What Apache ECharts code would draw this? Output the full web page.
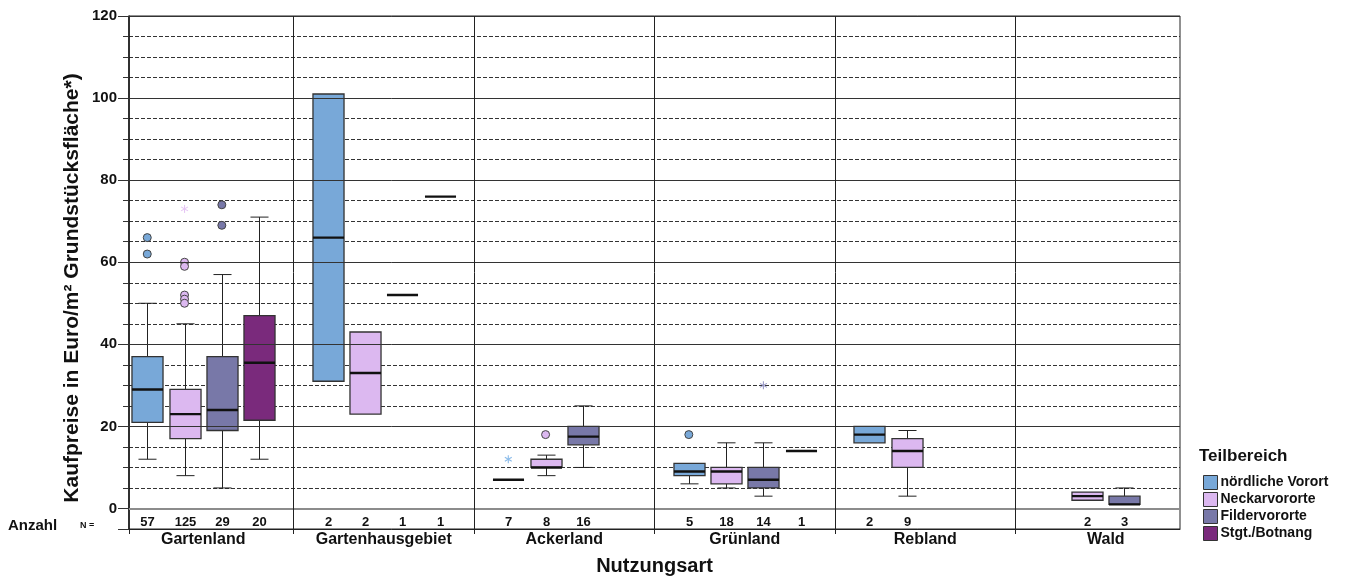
<!DOCTYPE html>
<html>
<head>
<meta charset="utf-8">
<title>Kaufpreise nach Nutzungsart</title>
<script src="https://cdn.jsdelivr.net/npm/echarts@6/dist/echarts.min.js"></script>
<style>
  html, body { margin: 0; padding: 0; background: #fff; }
  #chart { width: 1351px; height: 577px; }
</style>
</head>
<body>
<div id="chart"></div>
<script>
const categories = ['Gartenland', 'Gartenhausgebiet', 'Ackerland', 'Grünland', 'Rebland', 'Wald'];
const groups = ['nördliche Vorort', 'Neckarvororte', 'Fildervororte', 'Stgt./Botnang'];
const groupColors = ['#78a8d8', '#dcb8f0', '#7878a8', '#7a2a7c'];
const starColors = ['#8cbcea', '#e6c6f4', '#9a9ac8', '#9a4a9c'];

// [Minimum, Q1, Median, Q3, Maximum] je Nutzungsart, null = keine Fälle
const nordBoxes = [[12, 21, 29, 37, 50], [31, 31, 66, 101, 101], [7, 7, 7, 7, 7], [6, 8, 9, 11, 11], [16, 16, 18, 20, 20], null];
const neckarBoxes = [[8, 17, 23, 29, 45], [23, 23, 33, 43, 43], [8, 10, 10, 12, 13], [5, 6, 9, 10, 16], [3, 10, 14, 17, 19], [2, 2, 3, 4, 4]];
const filderBoxes = [[5, 19, 24, 37, 57], [52, 52, 52, 52, 52], [10, 15.5, 17.5, 20, 25], [3, 5, 7, 10, 16], null, [1, 1, 1, 3, 5]];
const botnangBoxes = [[12, 21.5, 35.5, 47, 71], [76, 76, 76, 76, 76], null, [14, 14, 14, 14, 14], null, null];

// Anzahl N
const nordCounts = [57, 2, 7, 5, 2, null];
const neckarCounts = [125, 2, 8, 18, 9, 2];
const filderCounts = [29, 1, 16, 14, null, 3];
const botnangCounts = [20, 1, null, 1, null, null];

// Ausreißer (Kreis) und Extremwerte (Stern): [Nutzungsart, Wert]
const nordOutliers = [[0, 66], [0, 62], [3, 18]];
const neckarOutliers = [[0, 60], [0, 59], [0, 52], [0, 51], [0, 50], [2, 18]];
const filderOutliers = [[0, 74], [0, 69]];
const botnangOutliers = [];
const nordExtremes = [[2, 12]];
const neckarExtremes = [[0, 73]];
const filderExtremes = [[3, 30]];
const botnangExtremes = [];

const yTicks = [0, 20, 40, 60, 80, 100, 120];
const dividers = [0.5, 1.5, 2.5, 3.5, 4.5];

const boxSets = [nordBoxes, neckarBoxes, filderBoxes, botnangBoxes];
const countSets = [nordCounts, neckarCounts, filderCounts, botnangCounts];
const outlierSets = [nordOutliers, neckarOutliers, filderOutliers, botnangOutliers];
const extremeSets = [nordExtremes, neckarExtremes, filderExtremes, botnangExtremes];

const FONT = 'Liberation Sans, Arial, sans-serif';
const SLOT = 0.2066;
const offsets = [-1.5, -0.5, 0.5, 1.5].map((k) => k * SLOT);
const BOX_W = 0.172;
const CAP_W = 0.1;
const COUNT_Y = -3.3;

const chart = echarts.init(document.getElementById('chart'));

const line = (x1, y1, x2, y2, w, c) => ({
  type: 'line',
  shape: { x1, y1, x2, y2 },
  style: { stroke: c, lineWidth: w },
});

function renderBox(gi) {
  return function (params, api) {
    const x = api.value(0) + offsets[gi];
    const band = api.size([1, 0])[0];
    const half = (band * BOX_W) / 2;
    const cap = (band * CAP_W) / 2;
    const [lo, q1, md, q3, hi] = [1, 2, 3, 4, 5].map((d) => api.coord([x, api.value(d)]));
    const cx = Math.round(lo[0]) + 0.5;
    const kids = [];
    if (q3[1] - hi[1] > 0.5) {
      kids.push(line(cx, q3[1], cx, hi[1], 1, '#222'));
      kids.push(line(cx - cap, hi[1], cx + cap, hi[1], 1, '#222'));
    }
    if (lo[1] - q1[1] > 0.5) {
      kids.push(line(cx, q1[1], cx, lo[1], 1, '#222'));
      kids.push(line(cx - cap, lo[1], cx + cap, lo[1], 1, '#222'));
    }
    if (q1[1] - q3[1] > 0.5) {
      kids.push({
        type: 'rect',
        shape: { x: cx - half, y: q3[1], width: half * 2, height: q1[1] - q3[1] },
        style: { fill: groupColors[gi], stroke: '#333', lineWidth: 1.3 },
      });
    }
    kids.push(line(cx - half, md[1], cx + half, md[1], 2.4, '#111'));
    const t = api.coord([x, COUNT_Y]);
    kids.push({
      type: 'text',
      x: cx,
      y: t[1],
      style: {
        text: String(api.value(6)),
        fill: '#111',
        font: 'bold 13px ' + FONT,
        align: 'center',
        verticalAlign: 'middle',
      },
    });
    return { type: 'group', children: kids };
  };
}

function renderPoint(gi, star) {
  return function (params, api) {
    const p = api.coord([api.value(0) + offsets[gi], api.value(1)]);
    if (!star) {
      return {
        type: 'circle',
        shape: { cx: p[0], cy: p[1], r: 4 },
        style: { fill: groupColors[gi], stroke: '#444', lineWidth: 1 },
      };
    }
    const r = 4;
    const kids = [90, 30, 150].map((a) => {
      const dx = r * Math.cos((a * Math.PI) / 180);
      const dy = r * Math.sin((a * Math.PI) / 180);
      return line(p[0] - dx, p[1] - dy, p[0] + dx, p[1] + dy, 1.1, starColors[gi]);
    });
    return { type: 'group', children: kids };
  };
}

const series = [
  {
    name: 'Raster',
    type: 'line',
    data: [],
    z: 1,
    silent: true,
    markLine: {
      silent: true,
      symbol: 'none',
      animation: false,
      label: { show: false },
      lineStyle: { type: 'solid', color: '#333', width: 1 },
      data: yTicks
        .map((v) => ({
          yAxis: v,
          lineStyle: v === 0 ? { color: '#8c8c8c', width: 2, type: 'solid' } : { color: '#333', width: 1, type: 'solid' },
        }))
        .concat(dividers.map((v) => ({ xAxis: v, lineStyle: { color: '#222', width: 1, type: 'solid' } }))),
    },
  },
];

groups.forEach((name, gi) => {
  const data = [];
  boxSets[gi].forEach((b, ci) => {
    if (b) data.push([ci, ...b, countSets[gi][ci]]);
  });
  series.push({
    name,
    type: 'custom',
    z: 3,
    itemStyle: { color: groupColors[gi] },
    renderItem: renderBox(gi),
    encode: { x: 0, y: [1, 2, 3, 4, 5] },
    data,
  });
  series.push({
    name: name + ' Ausreißer',
    type: 'custom',
    z: 4,
    renderItem: renderPoint(gi, false),
    encode: { x: 0, y: 1 },
    data: outlierSets[gi],
  });
  series.push({
    name: name + ' Extremwerte',
    type: 'custom',
    z: 4,
    renderItem: renderPoint(gi, true),
    encode: { x: 0, y: 1 },
    data: extremeSets[gi],
  });
});

const option = {
  animation: false,
  backgroundColor: '#fff',
  grid: {
    left: 129,
    right: 171,
    top: 16,
    bottom: 48,
    outerBoundsMode: 'none',
    show: true,
    borderColor: '#222',
    borderWidth: 1,
  },
  legend: {
    orient: 'vertical',
    left: 1203,
    top: 475,
    padding: 0,
    itemWidth: 14,
    itemHeight: 14,
    itemGap: 2,
    selectedMode: false,
    data: groups.map((name) => ({ name, icon: 'rect' })),
    itemStyle: { borderColor: '#333', borderWidth: 1 },
    textStyle: { fontFamily: FONT, fontWeight: 'bold', fontSize: 14, color: '#111', padding: [0, 0, 0, -2] },
  },
  xAxis: {
    type: 'value',
    min: -0.411,
    max: 5.411,
    name: 'Nutzungsart',
    nameLocation: 'middle',
    nameGap: 27,
    nameTextStyle: { fontFamily: FONT, fontWeight: 'bold', fontSize: 20, color: '#111' },
    axisLine: { show: true, onZero: false, lineStyle: { color: '#222', width: 1 } },
    axisTick: { show: true, length: 5, customValues: [-0.411].concat(dividers), lineStyle: { color: '#222' } },
    axisLabel: {
      customValues: categories.map((c, i) => i),
      formatter: (v) => categories[Math.round(v)],
      margin: 3,
      fontFamily: FONT,
      fontWeight: 'bold',
      fontSize: 16,
      color: '#111',
    },
    splitLine: { show: false },
  },
  yAxis: [
    {
      type: 'value',
      min: -5,
      max: 120,
      interval: 5,
      axisLine: { show: true, onZero: false, lineStyle: { color: '#111', width: 1.5 } },
      axisTick: { show: true, length: 6, lineStyle: { color: '#333' } },
      axisLabel: {
        formatter: (v) => (v >= 0 && v % 20 === 0 ? String(v) : ''),
        margin: 12,
        fontFamily: FONT,
        fontWeight: 'bold',
        fontSize: 15,
        color: '#111',
      },
      splitLine: { show: true, lineStyle: { type: [4, 2], color: '#333', width: 1 } },
    },
    {
      type: 'value',
      min: -5,
      max: 120,
      position: 'left',
      axisLine: { show: false, onZero: false },
      axisTick: { show: true, length: 11, customValues: [-5].concat(yTicks), lineStyle: { color: '#333' } },
      axisLabel: { show: false },
      splitLine: { show: false },
    },
  ],
  graphic: [
    {
      type: 'text',
      x: 72,
      y: 288,
      rotation: Math.PI / 2,
      style: {
        text: 'Kaufpreise in Euro/m² Grundstücksfläche*)',
        font: 'bold 21px ' + FONT,
        fill: '#111',
        align: 'center',
        verticalAlign: 'middle',
      },
    },
    { type: 'text', left: 1199, top: 448, style: { text: 'Teilbereich', font: 'bold 17px ' + FONT, fill: '#111' } },
    { type: 'text', left: 8, top: 518, style: { text: 'Anzahl', font: 'bold 15px ' + FONT, fill: '#111' } },
    { type: 'text', left: 80, top: 521, style: { text: 'N =', font: 'bold 9px ' + FONT, fill: '#111' } },
  ],
  series,
};

chart.setOption(option);
</script>
</body>
</html>
